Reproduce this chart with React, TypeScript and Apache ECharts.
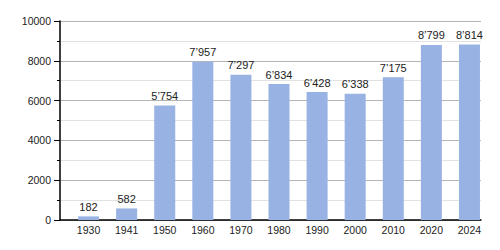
import React, { useEffect, useRef } from "react";
import * as echarts from "echarts";

const years = ["1930", "1941", "1950", "1960", "1970", "1980", "1990", "2000", "2010", "2020", "2024"];
const population = [182, 582, 5754, 7957, 7297, 6834, 6428, 6338, 7175, 8799, 8814];
const yMin = 0;
const yMax = 10000;
const yInterval = 2000;

const fmt = (v: number) => {
  const s = String(v);
  return s.length > 3 ? s.slice(0, s.length - 3) + "\u2019" + s.slice(s.length - 3) : s;
};

export default function App() {
  const ref = useRef<HTMLDivElement>(null);
  useEffect(() => {
    if (!ref.current) return;
    const chart = echarts.init(ref.current, null, { renderer: "svg" });
    const font = "'Liberation Sans', Arial, sans-serif";
    chart.setOption({
      animation: false,
      backgroundColor: "#ffffff",
      grid: [
        { left: 60, right: 19, top: 21, bottom: 30 },
        { left: 69.5, right: 11.5, top: 21, bottom: 30 },
      ],
      xAxis: [
        {
          type: "category",
          gridIndex: 0,
          data: years,
          axisLine: { show: true, lineStyle: { color: "#000", width: 1.5 } },
          axisTick: { show: false },
          axisLabel: { show: false },
          splitLine: { show: false },
        },
        {
          type: "category",
          gridIndex: 1,
          data: years,
          axisLine: { show: false },
          axisTick: { show: false },
          axisLabel: { color: "#222", fontSize: 10.5, fontFamily: font, margin: 4 },
        },
      ],
      yAxis: [
        {
          type: "value",
          gridIndex: 0,
          min: yMin,
          max: yMax,
          interval: yInterval,
          axisLine: { show: true, lineStyle: { color: "#000", width: 1.5 } },
          axisTick: { show: true, length: 6, lineStyle: { color: "#000" } },
          minorTick: { show: true, splitNumber: 2, length: 3, lineStyle: { color: "#000" } },
          splitLine: { show: true, lineStyle: { color: "#b4b4b4", width: 1 } },
          minorSplitLine: { show: true, lineStyle: { color: "#e2e2e2", width: 1 } },
          axisLabel: {
            color: "#222",
            fontSize: 10.5,
            fontFamily: font,
            margin: 9,
            formatter: (v: number) => String(v),
          },
        },
        {
          type: "value",
          gridIndex: 1,
          min: yMin,
          max: yMax,
          interval: yInterval,
          show: false,
          splitLine: { show: false },
        },
      ],
      series: [
        {
          type: "bar",
          xAxisIndex: 1,
          yAxisIndex: 1,
          data: population,
          barWidth: 21,
          itemStyle: { color: "#98b2e4" },
          label: {
            show: true,
            position: "top",
            distance: 4,
            color: "#222",
            fontSize: 11,
            fontFamily: font,
            formatter: (p: any) => fmt(p.value),
          },
        },
      ],
    });
    return () => chart.dispose();
  }, []);
  return <div ref={ref} style={{ width: 500, height: 250, position: "absolute", left: 0, top: 0 }} />;
}
